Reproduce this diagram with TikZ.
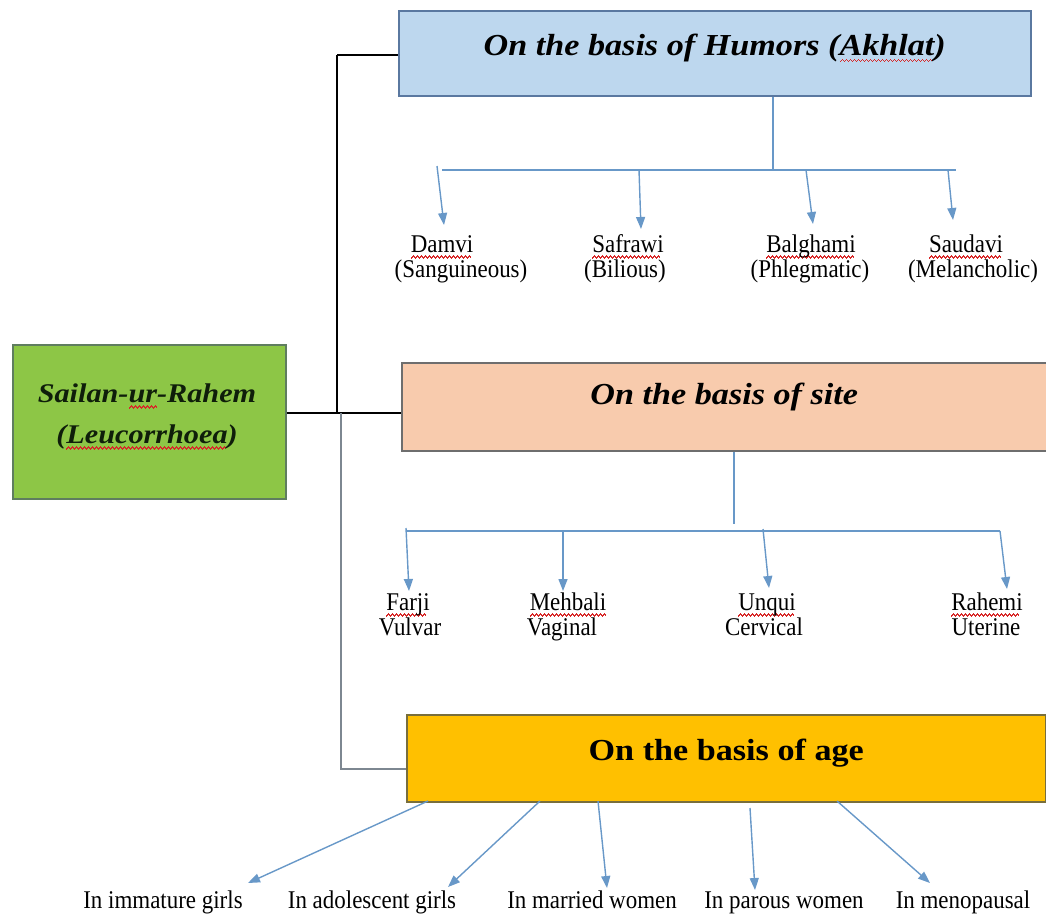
\documentclass[tikz,border=0pt]{standalone}
\usepackage{fontspec}
\setmainfont[FakeStretch=0.9]{Liberation Serif}
\newfontfamily\titlefam[FakeStretch=1.12]{Liberation Serif}
\usetikzlibrary{arrows.meta}
\definecolor{arrowblue}{RGB}{104,152,200}
\definecolor{bluefill}{RGB}{189,215,238}
\definecolor{bluebd}{RGB}{90,120,160}
\definecolor{peachfill}{RGB}{248,203,173}
\definecolor{peachbd}{RGB}{110,110,110}
\definecolor{yellowfill}{RGB}{255,192,0}
\definecolor{yellowbd}{RGB}{120,110,60}
\definecolor{greenfill}{RGB}{141,198,70}
\definecolor{greenbd}{RGB}{95,125,95}
\definecolor{rootink}{RGB}{15,30,10}
\definecolor{graylink}{RGB}{125,135,145}
\definecolor{wavered}{RGB}{215,40,40}
\newcommand\sq[1]{\setbox0=\hbox{#1}\rlap{\color{wavered}\hbox to \wd0{\leaders\hbox{\rule[-6.5pt]{1pt}{1.2pt}\rule[-5.5pt]{1pt}{1.2pt}\rule[-4.5pt]{1pt}{1.2pt}\rule[-5.5pt]{1pt}{1.2pt}}\hfill}}\box0}
\newcommand\titlefont{\titlefam\fontsize{30.5}{36}\selectfont\bfseries\itshape}
\newcommand\agefont{\titlefam\fontsize{30.5}{36}\selectfont\bfseries}
\newcommand\rootfont{\titlefam\fontsize{27}{41}\selectfont\bfseries\itshape}
\newcommand\lblfont{\fontsize{25.5}{28}\selectfont}
\tikzset{
  box/.style={draw=#1, line width=1.5pt, anchor=north west, inner sep=0pt, text height=20pt, text depth=24pt},
  lowtext/.style={text height=20pt, text depth=16pt},
  lbl/.style={font=\lblfont, anchor=base, inner sep=0pt, text height=17pt, text depth=4pt},
  rootlbl/.style={font=\rootfont, text=rootink, anchor=base, inner sep=0pt, text height=18pt, text depth=8pt},
  conn/.style={draw=arrowblue, line width=1.4pt},
  arr/.style={draw=arrowblue, line width=1.4pt, -{Triangle[length=12pt,width=9pt]}},
  blk/.style={draw=black, line width=1.4pt},
  gry/.style={draw=graylink, line width=1.4pt}
}
\begin{document}
\begin{tikzpicture}[x=1pt,y=-1pt]
\path[use as bounding box] (0,0) rectangle (1046,913);
% boxes
\node[box=bluebd, lowtext, fill=bluefill, minimum width=632pt, minimum height=85pt, font=\titlefont] (humors) at (398,10) {On the basis of Humors (\sq{Akhlat})};
\node[box=peachbd, fill=peachfill, minimum width=645pt, minimum height=88pt, font=\titlefont] (site) at (401,362) {On the basis of site};
\node[box=yellowbd, lowtext, fill=yellowfill, minimum width=639pt, minimum height=87pt, font=\agefont] (age) at (406,714) {On the basis of age};
\node[box=greenbd, fill=greenfill, minimum width=273pt, minimum height=154pt] (root) at (12,344) {};
\node[rootlbl] (root1) at (147,402) {Sailan-\sq{ur}-Rahem};
\node[rootlbl] (root2) at (147,443) {(\sq{Leucorrhoea})};
% main connectors
\coordinate (jt) at (337,55);
\coordinate (jm) at (337,413);
\coordinate (jm2) at (341,413);
\coordinate (jb) at (341,769);
\draw[blk] (jt) -- (humors.west |- jt);
\draw[blk] (jt) -- (jm);
\draw[blk] (root.east |- jm) -- (site.west |- jm);
\draw[gry] (jm2) -- (jb) -- (age.west |- jb);
% humors branch
\coordinate (hs) at (773,170);
\coordinate (hl) at (442,170);
\coordinate (hr) at (956,170);
\draw[conn] (humors.south -| hs) -- (hs);
\draw[conn] (hl) -- (hr);
\coordinate (h1s) at (437,166); \coordinate (h1e) at (444,225);
\coordinate (h2s) at (639,170); \coordinate (h2e) at (641,229);
\coordinate (h3s) at (806,170); \coordinate (h3e) at (813,224);
\coordinate (h4s) at (948,170); \coordinate (h4e) at (953,220);
\draw[arr] (h1s) -- (h1e);
\draw[arr] (h2s) -- (h2e);
\draw[arr] (h3s) -- (h3e);
\draw[arr] (h4s) -- (h4e);
\node[lbl] (damvi) at (442,252) {\sq{Damvi}};
\node[lbl] (sang) at (461,277) {(Sanguineous)};
\node[lbl] (safrawi) at (628,252) {\sq{Safrawi}};
\node[lbl] (bil) at (625,277) {(Bilious)};
\node[lbl] (balghami) at (811,252) {\sq{Balghami}};
\node[lbl] (phleg) at (810,277) {(Phlegmatic)};
\node[lbl] (saudavi) at (966,252) {\sq{Saudavi}};
\node[lbl] (mel) at (973,277) {(Melancholic)};
% site branch
\coordinate (ss) at (734,524);
\coordinate (sl) at (406,531);
\coordinate (sr) at (1000,531);
\draw[conn] (site.south -| ss) -- (ss);
\draw[conn] (sl) -- (sr);
\coordinate (s1s) at (406,528); \coordinate (s1e) at (409,591);
\coordinate (s2s) at (563,531); \coordinate (s2e) at (563,591);
\coordinate (s3s) at (763,529); \coordinate (s3e) at (769,588);
\coordinate (s4s) at (1000,531); \coordinate (s4e) at (1007,589);
\draw[arr] (s1s) -- (s1e);
\draw[arr] (s2s) -- (s2e);
\draw[arr] (s3s) -- (s3e);
\draw[arr] (s4s) -- (s4e);
\node[lbl] (farji) at (408,610) {\sq{Farji}};
\node[lbl] (vulvar) at (410,635) {Vulvar};
\node[lbl] (mehbali) at (568,610) {\sq{Mehbali}};
\node[lbl] (vaginal) at (562,635) {Vaginal};
\node[lbl] (unqui) at (767,610) {\sq{Unqui}};
\node[lbl] (cervical) at (764,635) {Cervical};
\node[lbl] (rahemi) at (987,610) {\sq{Rahemi}};
\node[lbl] (uterine) at (986,635) {Uterine};
% age branch
\coordinate (a1s) at (428,801); \coordinate (a1e) at (248,883);
\coordinate (a2s) at (540,801); \coordinate (a2e) at (448,887);
\coordinate (a3s) at (598,801); \coordinate (a3e) at (607,888);
\coordinate (a4s) at (750,808); \coordinate (a4e) at (755,890);
\coordinate (a5s) at (837,801); \coordinate (a5e) at (930,883);
\draw[arr] (a1s) -- (a1e);
\draw[arr] (a2s) -- (a2e);
\draw[arr] (a3s) -- (a3e);
\draw[arr] (a4s) -- (a4e);
\draw[arr] (a5s) -- (a5e);
\node[lbl] (immature) at (163,908) {In immature girls};
\node[lbl] (adolescent) at (372,908) {In adolescent girls};
\node[lbl] (married) at (592,908) {In married women};
\node[lbl] (parous) at (784,908) {In parous women};
\node[lbl] (meno) at (963,908) {In menopausal};
\end{tikzpicture}
\end{document}
